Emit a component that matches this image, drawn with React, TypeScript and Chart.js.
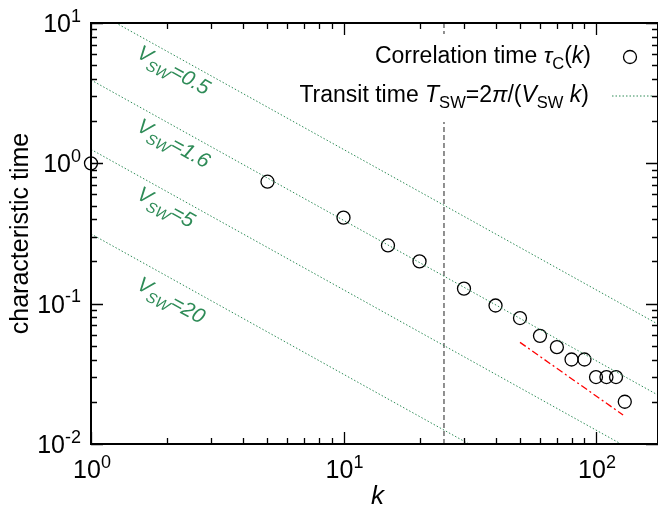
import React, { useEffect, useRef } from "react";
import { Chart, registerables } from "chart.js";

Chart.register(...registerables);

// ---- data ----
const kValues = [1, 5, 10, 15, 20, 30, 40, 50, 60, 70, 80, 90, 100, 110, 120, 130];
const tauValues = [1.0, 0.74, 0.41, 0.26, 0.2, 0.128, 0.097, 0.079, 0.059, 0.049, 0.04, 0.04, 0.03, 0.03, 0.03, 0.02];

const lineK = [1, 176];
const transit05 = [12.566, 0.0714];
const transit16 = [3.927, 0.02231];
const transit5 = [1.2566, 0.00714];
const transit20 = [0.31416, 0.001785];

const slopeK = [50, 128];
const slopeT = [0.053, 0.0161];

const cutK = [25, 25];
const cutT = [0.01, 10];

const vLabels = ["0.5", "1.6", "5", "20"];
const vLabelK = [1.5, 1.5, 1.5, 1.5];
const vLabelT = [5.75, 1.73, 0.567, 0.129];

const xTickExps = ["0", "1", "2"];
const yTickExps = ["-2", "-1", "0", "1"];

const X_MIN = 1;
const X_MAX = 176;
const Y_MIN = 0.01;
const Y_MAX = 10;

const GREEN = "#2e8b57";
const FONT = '"Liberation Sans", Arial, Helvetica, sans-serif';

type Seg = { t: string; it?: boolean; sub?: boolean; sup?: boolean };

function fnt(size: number, italic?: boolean) {
  return `${italic ? "italic " : ""}${size}px ${FONT}`;
}

function segSize(s: Seg, size: number) {
  return s.sub || s.sup ? size * 0.72 : size;
}

function richWidth(ctx: CanvasRenderingContext2D, segs: Seg[], size: number) {
  let w = 0;
  for (const s of segs) {
    ctx.font = fnt(segSize(s, size), s.it);
    w += ctx.measureText(s.t).width;
  }
  return w;
}

function drawRich(
  ctx: CanvasRenderingContext2D,
  segs: Seg[],
  x: number,
  y: number,
  size: number,
  align: "left" | "right" | "center"
) {
  const w = richWidth(ctx, segs, size);
  let cx = align === "right" ? x - w : align === "center" ? x - w / 2 : x;
  ctx.textAlign = "left";
  ctx.textBaseline = "alphabetic";
  for (const s of segs) {
    const sz = segSize(s, size);
    const dy = s.sub ? size * 0.28 : s.sup ? -size * 0.42 : 0;
    ctx.font = fnt(sz, s.it);
    ctx.fillText(s.t, cx, y + dy);
    cx += ctx.measureText(s.t).width;
  }
}

const decorPlugin = {
  id: "decor",
  afterDatasetsDraw(chart: any) {
    const { ctx, chartArea: a, scales } = chart;
    const xs = scales.x;
    const ys = scales.y;
    ctx.save();

    // legend box (opaque)
    ctx.fillStyle = "#ffffff";
    ctx.fillRect(296, a.top + 11, a.right - 296, 88);

    // legend entries
    ctx.fillStyle = "#000";
    drawRich(
      ctx,
      [
        { t: "Correlation time " },
        { t: "τ", it: true },
        { t: "C", sub: true },
        { t: "(" },
        { t: "k", it: true },
        { t: ")" },
      ],
      591,
      63,
      23,
      "right"
    );
    drawRich(
      ctx,
      [
        { t: "Transit time " },
        { t: "T", it: true },
        { t: "SW", sub: true },
        { t: "=2" },
        { t: "π", it: true },
        { t: "/(" },
        { t: "V", it: true },
        { t: "SW", sub: true },
        { t: " " },
        { t: "k", it: true },
        { t: ")" },
      ],
      589,
      102,
      23,
      "right"
    );
    // legend samples
    ctx.strokeStyle = "#000";
    ctx.lineWidth = 1.3;
    ctx.beginPath();
    ctx.arc(630, 57, 6.5, 0, Math.PI * 2);
    ctx.stroke();
    ctx.strokeStyle = GREEN;
    ctx.lineWidth = 1;
    ctx.setLineDash([1.5, 2]);
    ctx.beginPath();
    ctx.moveTo(612, 96);
    ctx.lineTo(652, 96);
    ctx.stroke();
    ctx.setLineDash([]);

    // V_SW labels
    const ang = Math.atan2(
      ys.getPixelForValue(0.1) - ys.getPixelForValue(1),
      xs.getPixelForValue(10) - xs.getPixelForValue(1)
    );
    ctx.fillStyle = GREEN;
    for (let i = 0; i < vLabels.length; i++) {
      const px = xs.getPixelForValue(vLabelK[i]);
      const py = ys.getPixelForValue(vLabelT[i]);
      ctx.save();
      ctx.translate(px, py);
      ctx.rotate(ang);
      drawRich(
        ctx,
        [
          { t: "V", it: true },
          { t: "SW", sub: true, it: true },
          { t: "=" + vLabels[i], it: true },
        ],
        0,
        0,
        21,
        "left"
      );
      ctx.restore();
    }

    // frame
    ctx.strokeStyle = "#000";
    ctx.lineWidth = 2;
    ctx.strokeRect(a.left, a.top, a.right - a.left, a.bottom - a.top);

    // ticks
    ctx.lineWidth = 1.3;
    ctx.beginPath();
    for (let d = -3; d <= 3; d++) {
      for (let m = 1; m <= 9; m++) {
        const v = m * Math.pow(10, d);
        const len = m === 1 ? 12 : 6;
        if (v >= X_MIN - 1e-9 && v <= X_MAX) {
          const px = Math.round(xs.getPixelForValue(v)) + 0.5;
          ctx.moveTo(px, a.bottom);
          ctx.lineTo(px, a.bottom - len);
          ctx.moveTo(px, a.top);
          ctx.lineTo(px, a.top + len);
        }
        if (v >= Y_MIN - 1e-12 && v <= Y_MAX + 1e-9) {
          const py = Math.round(ys.getPixelForValue(v)) + 0.5;
          ctx.moveTo(a.left, py);
          ctx.lineTo(a.left + len, py);
          ctx.moveTo(a.right, py);
          ctx.lineTo(a.right - len, py);
        }
      }
    }
    ctx.stroke();

    // tick labels
    ctx.fillStyle = "#000";
    const TS = 25;
    for (const e of xTickExps) {
      const px = xs.getPixelForValue(Math.pow(10, Number(e)));
      drawRich(ctx, [{ t: "10" }, { t: e, sup: true }], px + 1, 478, TS, "center");
    }
    for (const e of yTickExps) {
      const py = ys.getPixelForValue(Math.pow(10, Number(e)));
      drawRich(ctx, [{ t: "10" }, { t: e, sup: true }], 81, py + 9, TS, "right");
    }

    // axis titles
    ctx.save();
    ctx.translate(28, (a.top + a.bottom) / 2);
    ctx.rotate(-Math.PI / 2);
    ctx.font = fnt(25);
    ctx.textAlign = "center";
    ctx.textBaseline = "alphabetic";
    ctx.fillText("characteristic time", 0, 0);
    ctx.restore();

    ctx.font = fnt(26, true);
    ctx.textAlign = "center";
    ctx.textBaseline = "alphabetic";
    ctx.fillText("k", (a.left + a.right) / 2 + 3, 504);

    ctx.restore();
  },
};

function pts(xv: number[], yv: number[]) {
  return xv.map((v, i) => ({ x: v, y: yv[i] }));
}

export default function App() {
  const ref = useRef<HTMLCanvasElement | null>(null);
  useEffect(() => {
    if (!ref.current) return;
    const greenLine = (d: number[]) => ({
      data: pts(lineK, d),
      showLine: true,
      borderColor: GREEN,
      borderWidth: 1,
      borderDash: [1.5, 2],
      pointRadius: 0,
      fill: false,
    });
    const chart = new Chart(ref.current, {
      type: "scatter",
      data: {
        datasets: [
          greenLine(transit05),
          greenLine(transit16),
          greenLine(transit5),
          greenLine(transit20),
          {
            data: pts(slopeK, slopeT),
            showLine: true,
            borderColor: "#ff0000",
            borderWidth: 1.3,
            borderDash: [7, 3, 2, 3],
            pointRadius: 0,
          },
          {
            data: pts(cutK, cutT),
            showLine: true,
            borderColor: "#555555",
            borderWidth: 1.3,
            borderDash: [5, 3],
            pointRadius: 0,
          },
          {
            data: pts(kValues, tauValues),
            showLine: false,
            pointRadius: 6.5,
            pointBorderWidth: 1.3,
            pointBorderColor: "#000000",
            pointBackgroundColor: "rgba(0,0,0,0)",
            clip: false,
          } as any,
        ],
      },
      options: {
        responsive: true,
        maintainAspectRatio: false,
        animation: false,
        events: [],
        layout: { autoPadding: false, padding: { left: 91, top: 23, right: 0, bottom: 64 } },
        plugins: { legend: { display: false }, tooltip: { enabled: false } },
        scales: {
          x: { type: "logarithmic", min: X_MIN, max: X_MAX, display: false },
          y: { type: "logarithmic", min: Y_MIN, max: Y_MAX, display: false },
        },
      } as any,
      plugins: [decorPlugin],
    });
    return () => chart.destroy();
  }, []);
  return (
    <div style={{ position: "fixed", left: 0, top: 0, width: 658, height: 508, background: "#fff" }}>
      <canvas ref={ref} />
    </div>
  );
}
